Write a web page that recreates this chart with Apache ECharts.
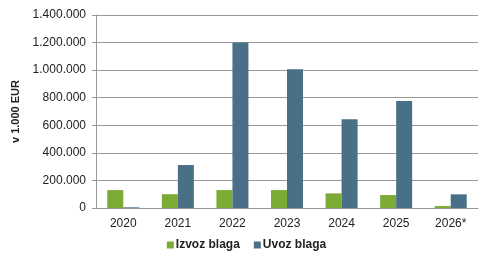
<!DOCTYPE html>
<html><head><meta charset="utf-8">
<script src="https://cdn.jsdelivr.net/npm/echarts@6/dist/echarts.min.js"></script>
<style>html,body{margin:0;padding:0;background:#fff}#c{width:493px;height:267px}</style>
</head><body><div id="c"></div>
<script>
const categories = ['2020','2021','2022','2023','2024','2025','2026*'];
const izvoz = [130000, 100000, 130000, 130000, 106000, 94000, 14000];
const uvoz = [5000, 312000, 1200000, 1006000, 643000, 776000, 99000];
const seriesNames = ['Izvoz blaga', 'Uvoz blaga'];
const fmt = v => String(v).replace(/\B(?=(\d{3})+(?!\d))/g, '.');
const chart = echarts.init(document.getElementById('c'));
chart.setOption({
  animation: false,
  textStyle: {fontFamily: 'Liberation Sans, Arial, sans-serif'},
  grid: {left: 96, right: 15, top: 15, bottom: 59},
  legend: {
    data: seriesNames, bottom: 11, left: 'center', itemWidth: 7, itemHeight: 7, itemGap: 14,
    icon: 'rect',
    textStyle: {fontSize: 12, fontWeight: 'bold', color: '#222', fontFamily: 'Liberation Sans, Arial, sans-serif', padding: [0,0,0,-3]}
  },
  xAxis: {
    type: 'category', data: categories,
    axisLine: {lineStyle: {color: '#999', width: 1}},
    axisTick: {show: false},
    axisLabel: {color: '#222', fontSize: 12, margin: 10}
  },
  yAxis: {
    type: 'value', min: 0, max: 1400000, interval: 200000,
    name: 'v 1.000 EUR', nameLocation: 'middle', nameGap: 64, nameRotate: 90,
    nameTextStyle: {fontWeight: 'bold', fontSize: 11, color: '#222'},
    axisLine: {show: true, lineStyle: {color: '#999'}},
    axisTick: {show: true, length: 4, lineStyle: {color: '#999'}},
    axisLabel: {color: '#222', fontSize: 12, margin: 10, formatter: fmt},
    splitLine: {lineStyle: {color: '#999', width: 1}}
  },
  series: [
    {name: seriesNames[0], type: 'bar', data: izvoz, barWidth: 16, barGap: '0%', itemStyle: {color: '#7BAA35'}},
    {name: seriesNames[1], type: 'bar', data: uvoz, barWidth: 16, itemStyle: {color: '#4A7088'}}
  ]
});
</script></body></html>
